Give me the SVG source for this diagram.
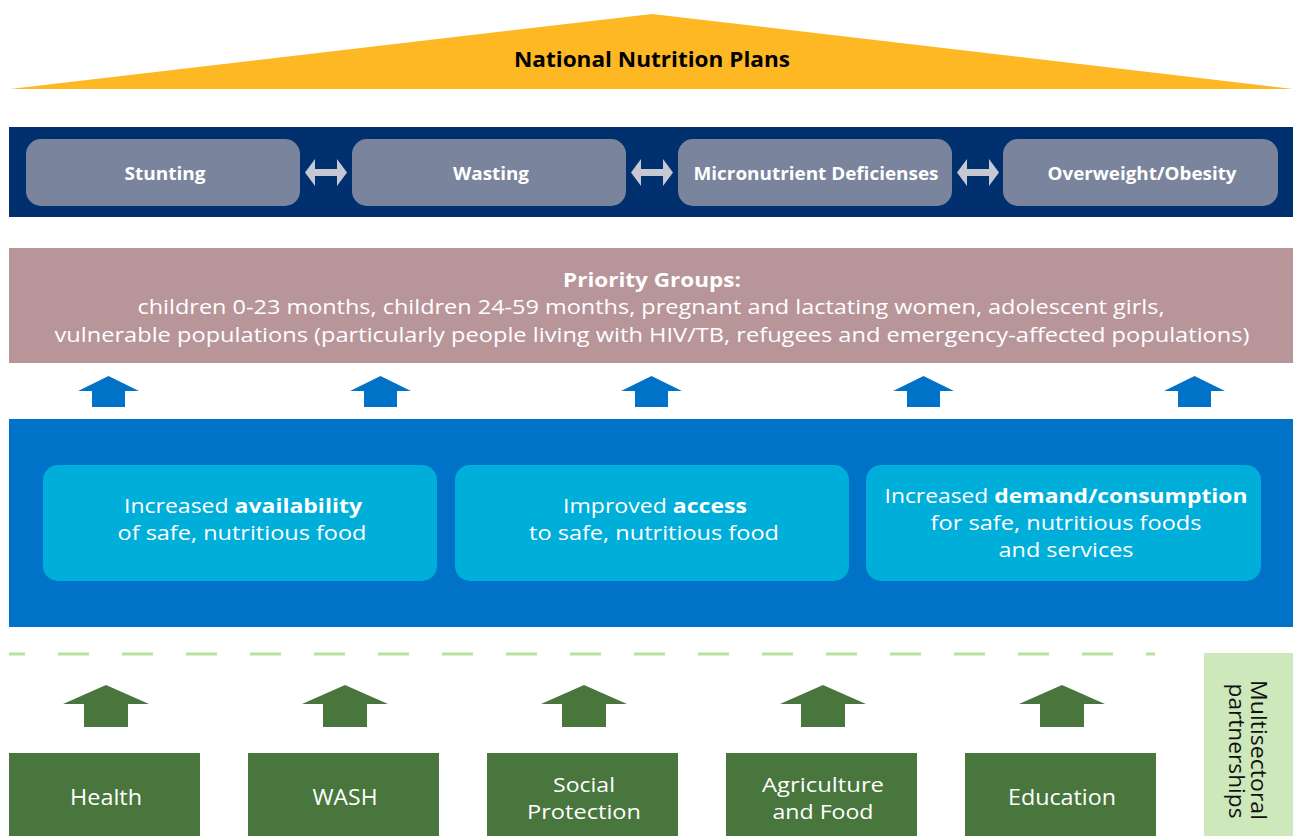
<svg xmlns="http://www.w3.org/2000/svg" width="1293" height="836" viewBox="0 0 1293 836">
<style>
text{font-family:"Open Sans","Noto Sans","Liberation Sans",sans-serif;text-anchor:middle}
.w{fill:#fff}
.b{font-weight:bold}
.cond{fill:#7A849C}
.nav{font-size:18px;font-weight:bold;fill:#fff}
.cy{fill:#00AEDA}
.cyt{font-size:19.8px;fill:#fff}
.gb{fill:#48763C}
.gt{font-size:19.8px;fill:#fff}
.gs{font-size:22px;fill:#fff}
.dbl{fill:#C5C8D3}
.bar{fill:#0073C8}
.gar{fill:#48763C}
</style>
<defs>
<polygon id="dArr" points="0,13.5 10,0 10,10 32,10 32,0 42,13.5 32,27 32,17 10,17 10,27"/>
<polygon id="bArr" points="0,15 30.5,0 61,15 47,15 47,31 14,31 14,15"/>
<polygon id="gArr" points="0,19 43,0 86,19 65,19 65,42 21,42 21,19"/>
</defs>
<rect width="1293" height="836" fill="#fff"/>

<g id="national-plans">
<polygon points="10,89 652,14 1293,89" fill="#FDB823"/>
<text x="652" y="67" font-size="21.5" class="b" fill="#000" textLength="276" lengthAdjust="spacingAndGlyphs">National Nutrition Plans</text>
</g>

<g id="conditions-band">
<rect x="9" y="127" width="1284" height="90" fill="#00306E"/>
</g>
<g id="stunting"><rect x="26" y="139" width="274" height="67" rx="15" class="cond"/><text x="165" y="180" class="nav" textLength="81" lengthAdjust="spacingAndGlyphs">Stunting</text></g>
<g id="wasting"><rect x="352" y="139" width="274" height="67" rx="15" class="cond"/><text x="491" y="180" class="nav" textLength="76" lengthAdjust="spacingAndGlyphs">Wasting</text></g>
<g id="micronutrient"><rect x="678" y="139" width="274" height="67" rx="15" class="cond"/><text x="816" y="180" class="nav" textLength="245" lengthAdjust="spacingAndGlyphs">Micronutrient Deficienses</text></g>
<g id="overweight"><rect x="1003" y="139" width="275" height="67" rx="15" class="cond"/><text x="1142" y="180" class="nav" textLength="189" lengthAdjust="spacingAndGlyphs">Overweight/Obesity</text></g>

<g id="priority-groups">
<rect x="9" y="248" width="1284" height="115" fill="#B89599"/>
<text x="652" y="287" font-size="19.8" class="w b" textLength="178" lengthAdjust="spacingAndGlyphs">Priority Groups:</text>
<text x="651" y="314" font-size="19.8" class="w" textLength="1027" lengthAdjust="spacingAndGlyphs">children 0-23 months, children 24-59 months, pregnant and lactating women, adolescent girls,</text>
<text x="652" y="342" font-size="19.8" class="w" textLength="1195" lengthAdjust="spacingAndGlyphs">vulnerable populations (particularly people living with HIV/TB, refugees and emergency-affected populations)</text>
</g>

<g id="outcomes-band">
<rect x="9" y="419" width="1284" height="208" fill="#0073C8"/>
</g>
<g id="availability"><rect x="43" y="465" width="394" height="116" rx="15" class="cy"/>
<text x="243" y="513" class="cyt" textLength="238" lengthAdjust="spacingAndGlyphs">Increased <tspan font-weight="bold">availability</tspan></text>
<text x="242" y="540" class="cyt" textLength="249" lengthAdjust="spacingAndGlyphs">of safe, nutritious food</text></g>
<g id="access"><rect x="455" y="465" width="394" height="116" rx="15" class="cy"/>
<text x="655" y="513" class="cyt" textLength="184" lengthAdjust="spacingAndGlyphs">Improved <tspan font-weight="bold">access</tspan></text>
<text x="654" y="540" class="cyt" textLength="250" lengthAdjust="spacingAndGlyphs">to safe, nutritious food</text></g>
<g id="demand"><rect x="866" y="465" width="395" height="116" rx="15" class="cy"/>
<text x="1066" y="503" class="cyt" textLength="363" lengthAdjust="spacingAndGlyphs">Increased <tspan font-weight="bold">demand/consumption</tspan></text>
<text x="1066" y="530" class="cyt" textLength="271" lengthAdjust="spacingAndGlyphs">for safe, nutritious foods</text>
<text x="1066" y="556.5" class="cyt" textLength="135" lengthAdjust="spacingAndGlyphs">and services</text></g>

<g id="multisectoral">
<rect x="1204" y="653" width="89" height="183" fill="#CDE8BA"/>
<text transform="translate(1251,750) rotate(90)" font-size="21" fill="#111" textLength="140" lengthAdjust="spacingAndGlyphs">Multisectoral</text>
<text transform="translate(1229,751) rotate(90)" font-size="21" fill="#111" textLength="135" lengthAdjust="spacingAndGlyphs">partnerships</text>
</g>

<g id="health"><rect x="9" y="753" width="191" height="83" class="gb"/><text x="106" y="805" class="gs" textLength="72" lengthAdjust="spacingAndGlyphs">Health</text></g>
<g id="wash"><rect x="248" y="753" width="191" height="83" class="gb"/><text x="345" y="805" class="gs" textLength="65" lengthAdjust="spacingAndGlyphs">WASH</text></g>
<g id="social-protection"><rect x="487" y="753" width="191" height="83" class="gb"/><text x="584" y="792" class="gt" textLength="62" lengthAdjust="spacingAndGlyphs">Social</text><text x="584" y="819" class="gt" textLength="114" lengthAdjust="spacingAndGlyphs">Protection</text></g>
<g id="agriculture"><rect x="726" y="753" width="191" height="83" class="gb"/><text x="823" y="792" class="gt" textLength="122" lengthAdjust="spacingAndGlyphs">Agriculture</text><text x="823" y="819" class="gt" textLength="101" lengthAdjust="spacingAndGlyphs">and Food</text></g>
<g id="education"><rect x="965" y="753" width="191" height="83" class="gb"/><text x="1062" y="805" class="gs" textLength="108" lengthAdjust="spacingAndGlyphs">Education</text></g>

<g id="connectors">
<use href="#dArr" x="305" y="159" class="dbl"/>
<use href="#dArr" x="631" y="159" class="dbl"/>
<use href="#dArr" x="957" y="159" class="dbl"/>
<use href="#bArr" x="78" y="376" class="bar"/>
<use href="#bArr" x="350" y="376" class="bar"/>
<use href="#bArr" x="621" y="376" class="bar"/>
<use href="#bArr" x="893" y="376" class="bar"/>
<use href="#bArr" x="1164" y="376" class="bar"/>
<line x1="9" y1="654" x2="1155" y2="654" stroke="#B7E19E" stroke-width="3" stroke-dasharray="31 33" stroke-dashoffset="15"/>
<use href="#gArr" x="63" y="685" class="gar"/>
<use href="#gArr" x="302" y="685" class="gar"/>
<use href="#gArr" x="541" y="685" class="gar"/>
<use href="#gArr" x="780" y="685" class="gar"/>
<use href="#gArr" x="1019" y="685" class="gar"/>
</g>
</svg>
